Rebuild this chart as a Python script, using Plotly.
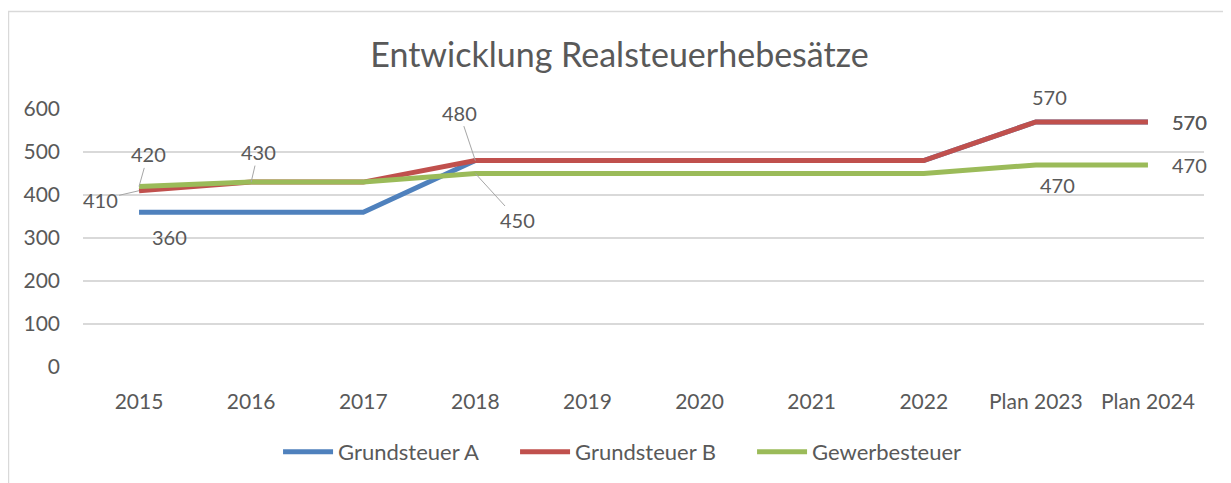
import plotly.graph_objects as go

# Categories and values
years = ["2015", "2016", "2017", "2018", "2019", "2020", "2021", "2022", "Plan 2023", "Plan 2024"]
grundsteuer_a = [360, 360, 360, 480, 480, 480, 480, 480, 570, 570]
grundsteuer_b = [410, 430, 430, 480, 480, 480, 480, 480, 570, 570]
gewerbesteuer = [420, 430, 430, 450, 450, 450, 450, 450, 470, 470]

y_ticks = [0, 100, 200, 300, 400, 500, 600]

FONT = "Lato"
TEXT = "#595959"

series = [
    ("Grundsteuer A", grundsteuer_a, "#4F81BD"),
    ("Grundsteuer B", grundsteuer_b, "#C0504D"),
    ("Gewerbesteuer", gewerbesteuer, "#9BBB59"),
]

fig = go.Figure()
for name, vals, col in series:
    fig.add_trace(go.Scatter(
        x=years, y=vals, name=name, mode="lines",
        line=dict(color=col, width=5),
        hoverinfo="x+y+name",
    ))

# data labels: (values, index, dx, dy, leader line)
labels = [
    (gewerbesteuer, 0, 9, -32, True),
    (grundsteuer_b, 0, -39, 9, True),
    (grundsteuer_a, 0, 30, 25, False),
    (grundsteuer_b, 1, 7, -30, True),
    (grundsteuer_b, 3, -16, -48, True),
    (gewerbesteuer, 3, 42, 46, True),
    (grundsteuer_b, 8, 14, -25, False),
    (grundsteuer_a, 9, 42, 0, False),
    (grundsteuer_b, 9, 42, 0, False),
    (gewerbesteuer, 8, 22, 20, False),
    (gewerbesteuer, 9, 42, 0, False),
]
for vals, i, dx, dy, leader in labels:
    # category axis: position by index so "2015" is not read as a number
    if leader:
        fig.add_annotation(
            x=i, y=vals[i], text=str(vals[i]),
            showarrow=True, arrowhead=0, arrowwidth=1, arrowcolor="#A6A6A6",
            ax=dx, ay=dy, standoff=0,
            font=dict(family=FONT, size=20, color=TEXT),
        )
    else:
        fig.add_annotation(
            x=i, y=vals[i], text=str(vals[i]),
            showarrow=False, xshift=dx, yshift=-dy,
            font=dict(family=FONT, size=20, color=TEXT),
        )

# thin outer chart border like the Excel chart area
fig.add_shape(type="rect", xref="paper", yref="paper",
              x0=-0.0665, x1=1.05, y0=-0.5, y1=1.378,
              line=dict(color="#D9D9D9", width=1.5), layer="below")

fig.update_layout(
    width=1223, height=475,
    margin=dict(l=75, r=27, t=101, b=115),
    paper_bgcolor="white", plot_bgcolor="white",
    font=dict(family=FONT, size=20, color=TEXT),
    title=dict(text="Entwicklung Realsteuerhebesätze", x=0.5, xanchor="center",
               y=1 - 47 / 475, yanchor="middle",
               font=dict(family=FONT, size=34, color=TEXT)),
    showlegend=True,
    legend=dict(orientation="h", x=0.174, xanchor="left", y=-0.324, yanchor="middle",
                font=dict(family=FONT, size=22, color=TEXT),
                entrywidth=172, entrywidthmode="pixels", itemwidth=50,
                traceorder="normal"),
    xaxis=dict(type="category", showgrid=False, zeroline=False, showline=False,
               ticks="", ticklabelstandoff=20, range=[-0.5, 9.5],
               tickfont=dict(family=FONT, size=21, color=TEXT)),
    yaxis=dict(range=[0, 600], tickvals=y_ticks, showgrid=True, gridcolor="#D9D9D9",
               gridwidth=1.5, zeroline=False, showline=False, ticks="",
               ticklabelstandoff=22,
               tickfont=dict(family=FONT, size=21, color=TEXT)),
)

fig.write_html("out.html")
